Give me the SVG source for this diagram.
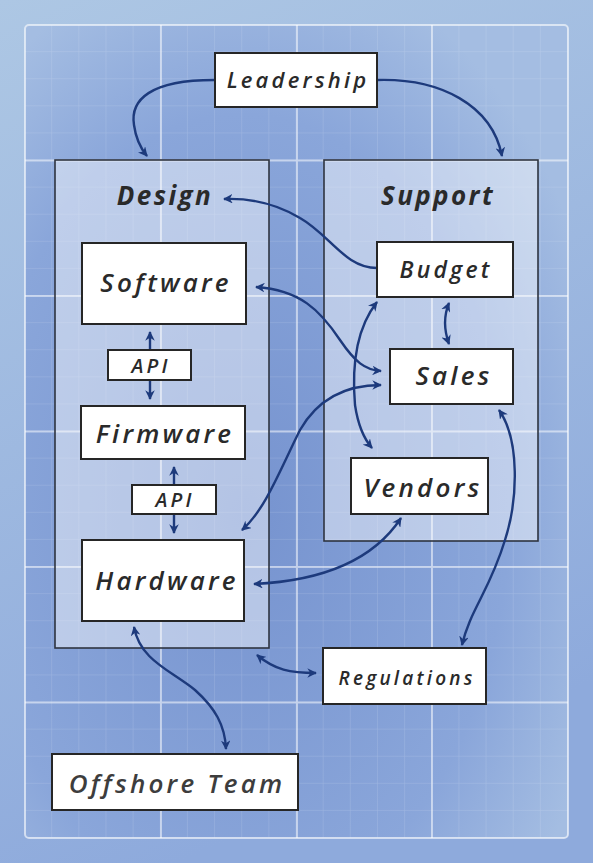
<svg xmlns="http://www.w3.org/2000/svg" width="593" height="863" viewBox="0 0 593 863">
<style>
.box{fill:#ffffff;stroke:#262626;stroke-width:2}
.cont{fill:#ffffff;fill-opacity:0.45;stroke:#2e3440;stroke-width:1.6}
.t{font-family:"Open Sans","DejaVu Sans",sans-serif;font-style:italic;font-weight:600;fill:#2a2a2a;text-anchor:middle;letter-spacing:3.2px}
.tb{font-weight:700;letter-spacing:2.4px}
.c{fill:none;stroke:#1d3a7c;stroke-width:2.4;marker-end:url(#ah)}
.d{marker-start:url(#ah)}
.maj{stroke:#ffffff;stroke-opacity:0.5;stroke-width:2}
.min{stroke:#ffffff;stroke-opacity:0.2;stroke-width:1}
</style>
<defs>
<linearGradient id="bg" x1="0" y1="0" x2="0.3" y2="1">
<stop offset="0" stop-color="#adc7e4"/>
<stop offset="1" stop-color="#8eaadc"/>
</linearGradient>
<radialGradient id="pn" cx="0.4" cy="0.6" r="0.7">
<stop offset="0" stop-color="#7693cf"/>
<stop offset="0.7" stop-color="#8aa6da"/>
<stop offset="1" stop-color="#a4bde2"/>
</radialGradient>
<marker id="ah" viewBox="0 0 10 10" refX="9" refY="5" markerWidth="4" markerHeight="4" orient="auto-start-reverse" markerUnits="strokeWidth">
<path d="M0,0 L10,5 L0,10 L3,5 z" fill="#1d3a7c"/>
</marker>
<pattern id="minor" x="25" y="25" width="27.15" height="27.1" patternUnits="userSpaceOnUse">
<path d="M27.15,0 V27.1 M0,27.1 H27.15" class="min" fill="none"/>
</pattern>
</defs>
<rect width="593" height="863" fill="url(#bg)"/>
<g id="grid">
<rect x="25" y="25" width="543" height="813" rx="4" fill="url(#pn)"/>
<rect x="25" y="25" width="543" height="813" rx="4" fill="url(#minor)"/>
<path class="maj" d="M161,25V838M297,25V838M432,25V838M25,160.5H568M25,296H568M25,431.5H568M25,567H568M25,702.5H568"/>
<rect x="25" y="25" width="543" height="813" rx="4" fill="none" stroke="#ffffff" stroke-opacity="0.6" stroke-width="2"/>
</g>
<g id="design">
<rect class="cont" x="55" y="160" width="214" height="488"/>
<text class="t tb" x="165" y="205" font-size="26">Design</text>
</g>
<g id="support">
<rect class="cont" x="324" y="160" width="214" height="381"/>
<text class="t tb" x="438" y="205" font-size="26">Support</text>
</g>
<g id="connectors">
<path class="c" d="M214,80 C150,80 130,100 134,125 C136,140 142,150 147,156"/>
<path class="c" d="M377,80 C440,78 492,105 502,156"/>
<path class="c" d="M377,268 C345,268 330,235 300,218 C275,203 250,198 224,199"/>
<path class="c d" d="M256,287 C300,290 320,310 340,340 C355,362 365,370 381,371"/>
<path class="c d" d="M242,530 C265,510 280,470 300,430 C320,395 350,385 381,385"/>
<path class="c d" d="M377,302 C355,330 352,370 355,405 C358,425 365,440 372,448"/>
<path class="c d" d="M449,303 C444,315 444,330 449,344"/>
<path class="c d" d="M401,518 C380,550 340,580 254,584"/>
<path class="c d" d="M499,410 C520,440 518,500 505,540 C490,590 470,610 462,645"/>
<path class="c d" d="M257,655 C275,670 290,673 316,673"/>
<path class="c d" d="M134,627 C140,660 170,670 195,690 C215,708 225,725 226,749"/>
<path class="c" d="M150,350 V332"/>
<path class="c" d="M150,380 V399"/>
<path class="c" d="M174,485 V467"/>
<path class="c" d="M174,514 V533"/>
</g>
<g id="leadership">
<rect class="box" x="215" y="53" width="162" height="54"/>
<text class="t" x="298" y="88" font-size="22">Leadership</text>
</g>
<g id="software">
<rect class="box" x="82" y="243" width="164" height="81"/>
<text class="t" x="166" y="292" font-size="26">Software</text>
</g>
<g id="api1">
<rect class="box" x="108" y="350" width="83" height="30"/>
<text class="t" x="151" y="373" font-size="20">API</text>
</g>
<g id="firmware">
<rect class="box" x="81" y="406" width="164" height="53"/>
<text class="t" x="165" y="443" font-size="26">Firmware</text>
</g>
<g id="api2">
<rect class="box" x="132" y="485" width="84" height="29"/>
<text class="t" x="175" y="507" font-size="20">API</text>
</g>
<g id="hardware">
<rect class="box" x="82" y="540" width="162" height="81"/>
<text class="t" x="167" y="590" font-size="26">Hardware</text>
</g>
<g id="budget">
<rect class="box" x="377" y="242" width="136" height="55"/>
<text class="t" x="446" y="278" font-size="23">Budget</text>
</g>
<g id="sales">
<rect class="box" x="390" y="349" width="123" height="55"/>
<text class="t" x="454" y="385" font-size="26">Sales</text>
</g>
<g id="vendors">
<rect class="box" x="351" y="458" width="137" height="56"/>
<text class="t" x="423" y="497" font-size="26">Vendors</text>
</g>
<g id="regulations">
<rect class="box" x="323" y="648" width="163" height="56"/>
<text class="t" x="407" y="685" font-size="19">Regulations</text>
</g>
<g id="offshore">
<rect class="box" x="52" y="754" width="246" height="56"/>
<text class="t" x="177" y="793" font-size="26" style="fill:#3d3d3d">Offshore Team</text>
</g>
</svg>
